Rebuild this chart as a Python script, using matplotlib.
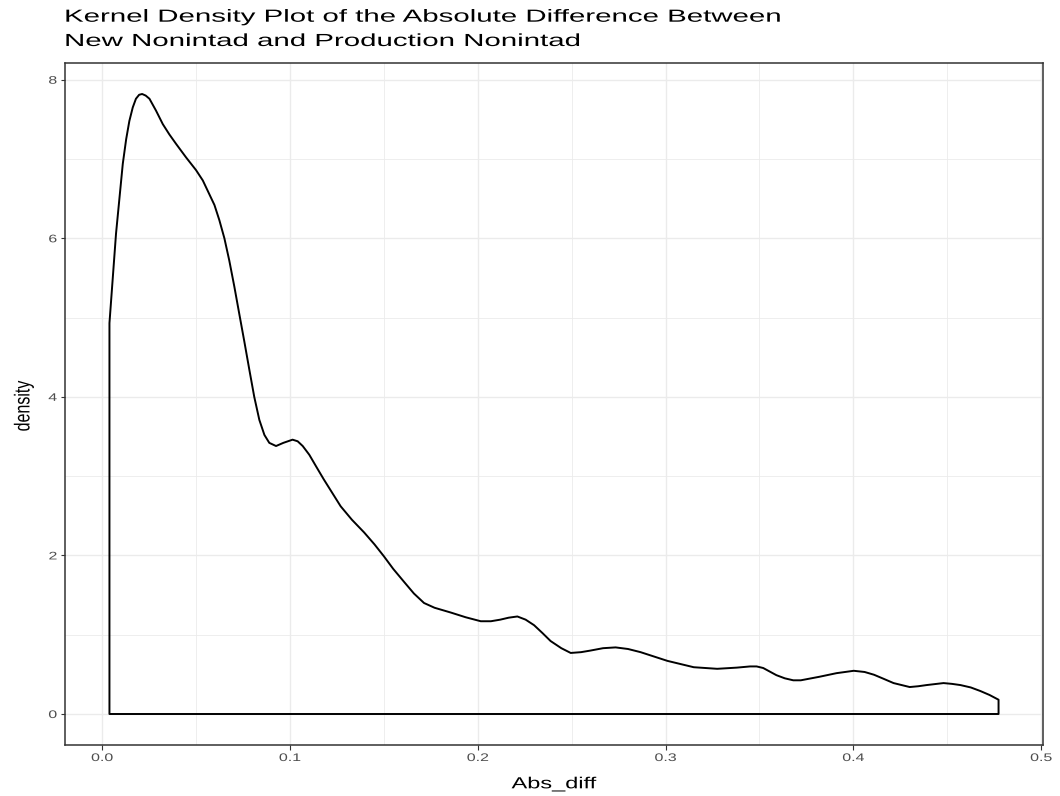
import numpy as np
import matplotlib
matplotlib.use("Agg")
import matplotlib.pyplot as plt
from matplotlib.patheffects import AbstractPathEffect
from matplotlib.transforms import Affine2D

# ---- data ----
abs_diff = [0.0039, 0.0074, 0.011, 0.0128, 0.0145, 0.0163, 0.018, 0.0197, 0.0213,
            0.0232, 0.0252, 0.0287, 0.0323, 0.0358, 0.0394, 0.0447, 0.05, 0.0536,
            0.057, 0.0598, 0.0624, 0.0651, 0.0677, 0.0704, 0.073, 0.0757, 0.0784,
            0.081, 0.0837, 0.0864, 0.089, 0.0926, 0.0965, 0.1014, 0.1041, 0.1068,
            0.1103, 0.114, 0.118, 0.1225, 0.127, 0.133, 0.1395, 0.145, 0.150,
            0.155, 0.161, 0.166, 0.1714, 0.177, 0.1856, 0.1936, 0.2016, 0.207,
            0.212, 0.2165, 0.2211, 0.2255, 0.23, 0.2345, 0.2388, 0.2445, 0.2495,
            0.255, 0.26, 0.2667, 0.2734, 0.28, 0.2867, 0.301, 0.315, 0.3275,
            0.338, 0.345, 0.3485, 0.352, 0.3555, 0.359, 0.3635, 0.368, 0.372,
            0.382, 0.391, 0.4002, 0.406, 0.411, 0.416, 0.4214, 0.430, 0.4345,
            0.439, 0.448, 0.4525, 0.457, 0.4625, 0.4676, 0.4725, 0.4773]
density = [4.93, 6.06, 6.94, 7.25, 7.48, 7.65, 7.76, 7.81, 7.82,
           7.80, 7.76, 7.61, 7.44, 7.31, 7.19, 7.02, 6.86, 6.73,
           6.56, 6.42, 6.23, 6.00, 5.72, 5.39, 5.05, 4.70, 4.34,
           4.00, 3.71, 3.52, 3.42, 3.38, 3.42, 3.46, 3.44, 3.38,
           3.27, 3.12, 2.96, 2.79, 2.62, 2.45, 2.29, 2.14, 1.99,
           1.83, 1.66, 1.52, 1.40, 1.34, 1.28, 1.22, 1.17, 1.17,
           1.19, 1.215, 1.23, 1.19, 1.12, 1.02, 0.92, 0.83, 0.77,
           0.78, 0.80, 0.83, 0.84, 0.82, 0.78, 0.67, 0.59, 0.57,
           0.585, 0.60, 0.60, 0.58, 0.535, 0.49, 0.45, 0.425, 0.425,
           0.47, 0.515, 0.545, 0.53, 0.495, 0.445, 0.39, 0.34, 0.35,
           0.365, 0.39, 0.38, 0.365, 0.335, 0.29, 0.24, 0.18]
x_ticks = [0.0, 0.1, 0.2, 0.3, 0.4, 0.5]
x_tick_labels = ["0.0", "0.1", "0.2", "0.3", "0.4", "0.5"]
y_ticks = [0, 2, 4, 6, 8]
y_tick_labels = ["0", "2", "4", "6", "8"]
title_lines = ["Kernel Density Plot of the Absolute Difference Between",
               "New Nonintad and Production Nonintad"]
x_label = "Abs_diff"
y_label = "density"


class HStretch(AbstractPathEffect):
    """Stretch rendered text horizontally (display coords) about an anchor."""
    def __init__(self, sx, anchor="center"):
        super().__init__()
        self.sx = sx
        self.anchor = anchor

    def draw_path(self, renderer, gc, tpath, affine, rgbFace=None):
        ext = tpath.get_extents(affine)
        if self.anchor == "left":
            x0 = ext.x0
        elif self.anchor == "right":
            x0 = ext.x1
        else:
            x0 = 0.5 * (ext.x0 + ext.x1)
        st = Affine2D().translate(-x0, 0).scale(self.sx, 1.0).translate(x0, 0)
        renderer.draw_path(gc, tpath, affine + st, rgbFace)


W, H = 1060, 796
DPI = 100
fig = plt.figure(figsize=(W / DPI, H / DPI), dpi=DPI)
plt.rcParams['font.family'] = ['Liberation Sans', 'DejaVu Sans']

def px(v):  # pixels -> points
    return v * 72.0 / DPI

left, right, top, bottom = 65, 1043, 63, 745
ax = fig.add_axes([left / W, 1 - bottom / H, (right - left) / W, (bottom - top) / H])

xs = np.asarray(abs_diff)
ys = np.asarray(density)
xr = xs.max() - xs.min()
ax.set_xlim(xs.min() - 0.05 * xr, xs.max() + 0.05 * xr)
ax.set_ylim(0 - 0.05 * ys.max(), ys.max() * 1.05)

# grid
ax.set_xticks(x_ticks)
ax.set_xticks([0.05, 0.15, 0.25, 0.35, 0.45], minor=True)
ax.set_yticks(y_ticks)
ax.set_yticks([1, 3, 5, 7], minor=True)
ax.grid(which="major", color="#EBEBEB", lw=1.0)
ax.grid(which="minor", color="#EBEBEB", lw=0.6)
ax.set_axisbelow(True)
ax.tick_params(which="minor", length=0)

# density outline
ax.fill(np.r_[xs[0], xs, xs[-1]], np.r_[0.0, ys, 0.0], facecolor="none",
        edgecolor="black", lw=1.4, joinstyle="round")

for sp in ax.spines.values():
    sp.set_color("#333333")
    sp.set_linewidth(1.1)

tick_fs = px(11)
ax.tick_params(which="major", length=px(4.5), width=0.8, color="#333333",
               labelcolor="#4D4D4D", labelsize=tick_fs, pad=px(3.5))
xl = ax.set_xticklabels(x_tick_labels)
yl = ax.set_yticklabels(y_tick_labels)
for t in xl:
    t.set_path_effects([HStretch(1.45, "center")])
for t in yl:
    t.set_path_effects([HStretch(1.45, "right")])

# titles
t1 = fig.text(65 / W, 1 - 21.7 / H, title_lines[0], fontsize=px(17.5), ha="left",
              va="baseline", color="black")
t2 = fig.text(65 / W, 1 - 46.0 / H, title_lines[1], fontsize=px(17.5), ha="left",
              va="baseline", color="black")
xlab = fig.text(554 / W, 1 - 788.3 / H, x_label, fontsize=px(16), ha="center",
                va="baseline", color="black")
ylab = fig.text(23.5 / W, 1 - 406 / H, y_label, fontsize=px(16), rotation=90,
                ha="center", va="center", color="black")

fig.canvas.draw()
r = fig.canvas.get_renderer()
sx_title = 717.0 / t1.get_window_extent(r).width
sx_xlab = 85.0 / xlab.get_window_extent(r).width
t1.set_path_effects([HStretch(sx_title, "left")])
t2.set_path_effects([HStretch(sx_title, "left")])
xlab.set_path_effects([HStretch(sx_xlab, "center")])
ylab.set_path_effects([HStretch(1.35, "center")])

fig.savefig("out.png", dpi=DPI, facecolor="white")
